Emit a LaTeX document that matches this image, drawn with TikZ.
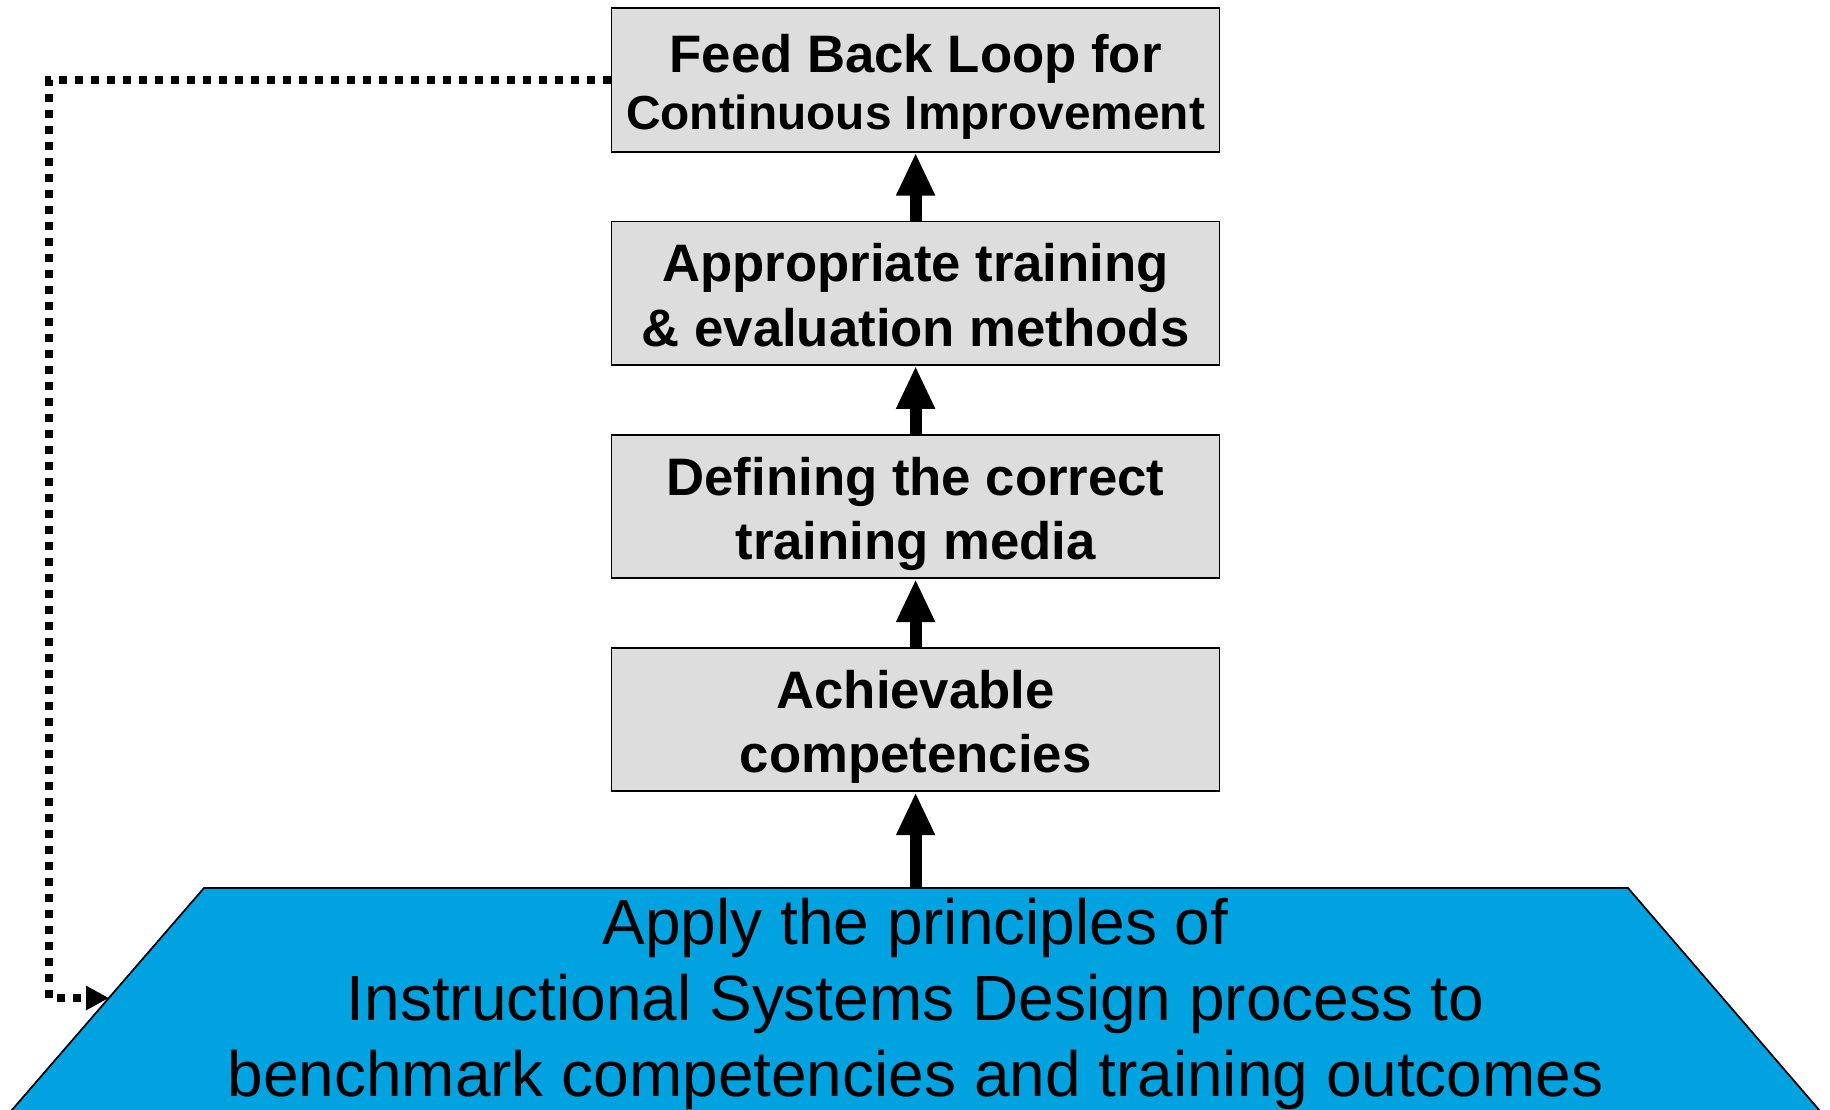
\documentclass[tikz,border=0pt]{standalone}
\usepackage{fontspec}
\setmainfont{Liberation Sans}
\usetikzlibrary{arrows.meta, positioning}
\definecolor{boxgray}{HTML}{DDDDDD}
\definecolor{isdblue}{HTML}{00A3E0}

\begin{document}
\begin{tikzpicture}[
    x=0.1mm, y=-0.1mm,
    node distance=21.32mm,
    on grid,
    stage/.style={draw=black, line width=0.5pt, fill=boxgray, minimum width=60.8mm, minimum height=14.35mm, inner sep=0pt, text height=30.2pt, text depth=0pt, align=center, font=\bfseries\fontsize{15}{18.3}\selectfont},
    uparrow/.style={line width=1.2mm, -{Triangle[length=4.3mm, width=3.6mm]}},
    loopline/.style={line width=0.73mm, dash pattern=on 0.73mm off 0.87mm, -{Triangle[length=2.3mm, width=2.3mm]}}
]

   % Frame
   \clip (0,0) rectangle (1830,1109);

   % Base
   \filldraw[fill=isdblue, draw=black, line width=0.5pt] (204,888) -- (1628,888) -- (1845,1140) -- (-14,1140) -- cycle;
   \coordinate (isdtop) at (915.6,888);
   \coordinate (entry) at (109,998);
   \node[font=\fontsize{18.2}{21.6}\selectfont, align=center] (isd) at (915.6,1004)
      {Apply the principles of\\Instructional Systems Design process to\\benchmark competencies and training outcomes};

   % Stages
   \node[stage, text height=28.2pt] (fb) at (915.6,80) {Feed Back Loop for\\[-2pt]{\fontsize{13.6}{17}\selectfont Continuous Improvement}};
   \node[stage] (methods) [below=of fb] {Appropriate training\\\& evaluation methods};
   \node[stage] (media) [below=of methods] {Defining the correct\\training media};
   \node[stage] (comp) [below=of media] {Achievable\\competencies};

   % Arrows
   \draw[uparrow] (isdtop) -- (comp);
   \draw[uparrow] (comp) -- (media);
   \draw[uparrow] (media) -- (methods);
   \draw[uparrow] (methods) -- (fb);

   % Feed back
   \draw[loopline] (fb.west) -- ++(-561.6,0) |- (entry);
\end{tikzpicture}
\end{document}
